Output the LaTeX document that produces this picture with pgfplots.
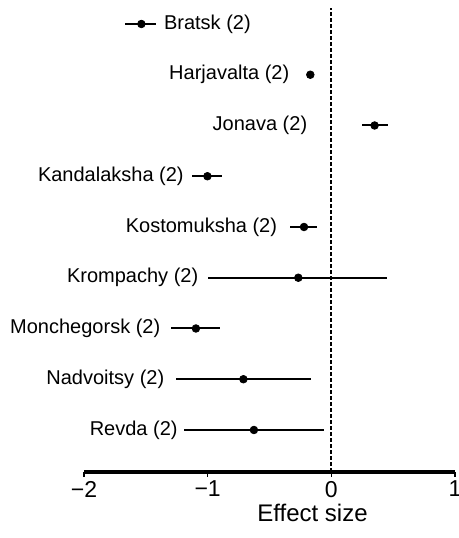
\documentclass[border=0pt]{standalone}
\usepackage{pgfplots}
\pgfplotsset{compat=1.18}
\usepackage{pgfplotstable}
\usepackage{fontspec}
\setmainfont{Liberation Sans}

\pgfplotstableread{
row pt lo hi
9 -1.536 -1.669 -1.420
8 -0.170 -0.185 -0.155
7 0.350 0.250 0.458
6 -1.002 -1.124 -0.881
5 -0.221 -0.331 -0.113
4 -0.267 -0.998 0.453
3 -1.095 -1.293 -0.903
2 -0.711 -1.259 -0.167
1 -0.626 -1.194 -0.062
}\effects

\begin{document}
\begin{tikzpicture}
\begin{axis}[
  scale only axis, width=185.5bp, height=231.85bp,
  xmin=-2, xmax=1, ymin=0.178, ymax=9.315,
  axis x line=bottom, axis y line=none,
  axis line style={-, line width=2bp, black},
  xtick={-2,-1,0,1}, xticklabels={−2,−1,0,1},
  tick align=outside, major tick length=2.5bp,
  tick style={line width=0.8bp, black},
  xticklabel style={font=\fontsize{11.5bp}{13bp}\selectfont, inner sep=2pt},
  ytick=\empty,
  xlabel={Effect size},
  xlabel style={at={(axis description cs:0.616,0)}, anchor=center, yshift=-20.5bp, inner sep=0pt, font=\fontsize{12bp}{14bp}\selectfont},
  clip=false,
]
\addplot[black, line width=0.95bp, dash pattern=on 2bp off 1bp] coordinates {(0,0.178) (0,9.315)};
\addplot[black, only marks, mark=*, mark size=1.9bp,
  error bars/.cd, x dir=both, x explicit, error mark=none,
  error bar style={line width=1bp, black}]
  table[x=pt, y=row, x error plus expr=\thisrow{hi}-\thisrow{pt}, x error minus expr=\thisrow{pt}-\thisrow{lo}] {\effects};
\begin{scope}[every node/.style={inner sep=0pt, font=\fontsize{10bp}{12bp}\selectfont}]
\node[anchor=west] at (axis cs:-1.356,9) {Bratsk (2)};
\node[anchor=east] at (axis cs:-0.337,8) {Harjavalta (2)};
\node[anchor=east] at (axis cs:-0.192,7) {Jonava (2)};
\node[anchor=east] at (axis cs:-1.191,6) {Kandalaksha (2)};
\node[anchor=east] at (axis cs:-0.436,5) {Kostomuksha (2)};
\node[anchor=east] at (axis cs:-1.073,4) {Krompachy (2)};
\node[anchor=east] at (axis cs:-1.380,3) {Monchegorsk (2)};
\node[anchor=east] at (axis cs:-1.348,2) {Nadvoitsy (2)};
\node[anchor=east] at (axis cs:-1.240,1) {Revda (2)};
\end{scope}
\coordinate (O) at (rel axis cs:0,0);
\end{axis}
\pgfresetboundingbox
\useasboundingbox ([shift={(-42bp,-33.15bp)}]O) rectangle ([shift={(187.5bp,235.85bp)}]O);
\end{tikzpicture}
\end{document}
